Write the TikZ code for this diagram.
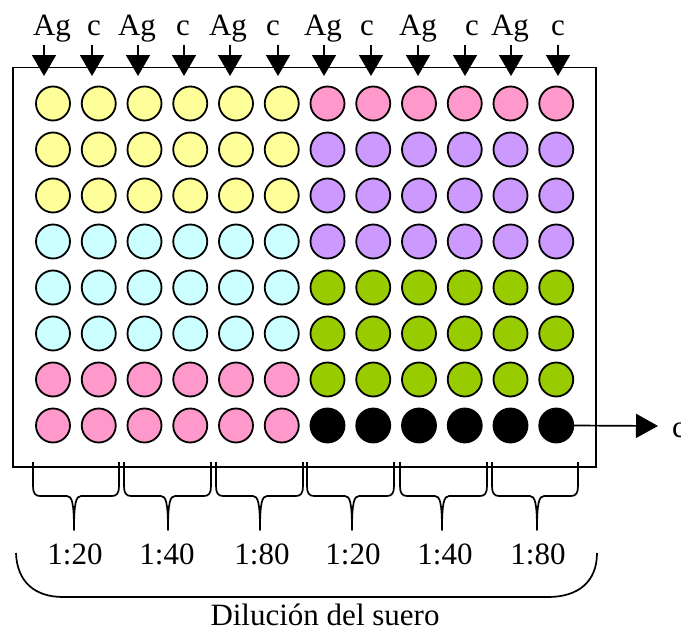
\documentclass[tikz,border=0pt]{standalone}
\usepackage{fontspec}
\setmainfont{Liberation Serif}
\usetikzlibrary{arrows.meta}
\definecolor{wy}{HTML}{FFFF99}
\definecolor{wp}{HTML}{FF99CC}
\definecolor{wv}{HTML}{CC99FF}
\definecolor{wc}{HTML}{CCFFFF}
\definecolor{wg}{HTML}{99CC00}
\definecolor{wk}{HTML}{000000}
\begin{document}
\begin{tikzpicture}[x=1pt,y=-1pt,
  well/.style={circle,draw=black,line width=1.8pt,minimum size=34pt,inner sep=0pt},
  lbl/.style={font=\fontsize{31}{33}\selectfont,inner sep=0pt,anchor=base},
  downarr/.style={line width=1.7pt,-{Triangle[width=24pt,length=21pt]}},
  brace/.style={line width=1.7pt,line join=round},
  plate/.style={draw,line width=1.8pt,inner sep=0pt,anchor=north west}]
\useasboundingbox (0,0) rectangle (681,637);
% plate
\node[plate,minimum width=583pt,minimum height=399.5pt] (plate) at (12,66.5) {};
% wells
\foreach \r/\lc/\rc in {1/wy/wp,2/wy/wv,3/wy/wv,4/wc/wv,5/wc/wg,6/wc/wg,7/wp/wg,8/wp/wk}{
  \foreach \c in {1,...,12}{
    \ifnum\c<7 \def\fc{\lc}\else\def\fc{\rc}\fi
    \node[well,fill=\fc] (w-\r-\c) at ({53+45.75*(\c-1)},{103.5+46*(\r-1)}) {};
  }
}
% top labels
\foreach \i/\x/\t in {1/52/Ag,2/94/c,3/137/Ag,4/183/c,5/228/Ag,6/273/c,7/323/Ag,8/367/c,9/418/Ag,10/472/c,11/510/Ag,12/558/c}{
  \node[lbl] (t-\i) at (\x,35) {\t};
}
% top arrows
\foreach \i/\x in {1/44,2/92,3/138,4/184,5/230,6/278,7/324,8/371,9/418,10/465,11/511,12/558}{
  \coordinate (as-\i) at (\x,45);
  \coordinate (ae-\i) at (\x,76);
  \draw[downarr] (as-\i) -- (ae-\i);
}
% right arrow
\coordinate (cout) at (658,426);
\draw[line width=1.7pt,-{Triangle[width=24pt,length=22pt]}] (w-8-12.east) -- (cout);
\node[lbl,anchor=base west] (ctext) at (672,437) {c};
% small braces
\foreach \a/\m/\b in {33/74/119,124/168/211,216/260/303,307/352/394,400/442/487,492/537/578}{
  \draw[brace] (\a,462) -- (\a,486) .. controls (\a,493) and (\a+2,496) .. (\a+7,496)
    -- (\m-7,496) .. controls (\m-2,496) and (\m,503) .. (\m,530)
    .. controls (\m,503) and (\m+2,496) .. (\m+7,496)
    -- (\b-7,496) .. controls (\b-2,496) and (\b,493) .. (\b,486) -- (\b,462);
}
% dilution labels
\foreach \i/\x/\t in {1/75/1:20,2/167/1:40,3/262/1:80,4/353/1:20,5/445/1:40,6/538/1:80}{
  \node[lbl] (d-\i) at (\x,564) {\t};
}
% big brace
\draw[brace] (16,553) .. controls (17,582) and (35,597) .. (63,597) -- (548,597)
  .. controls (578,597) and (597,582) .. (597,553);
\node[lbl] (title) at (325,625) {Dilución del suero};
\end{tikzpicture}
\end{document}
